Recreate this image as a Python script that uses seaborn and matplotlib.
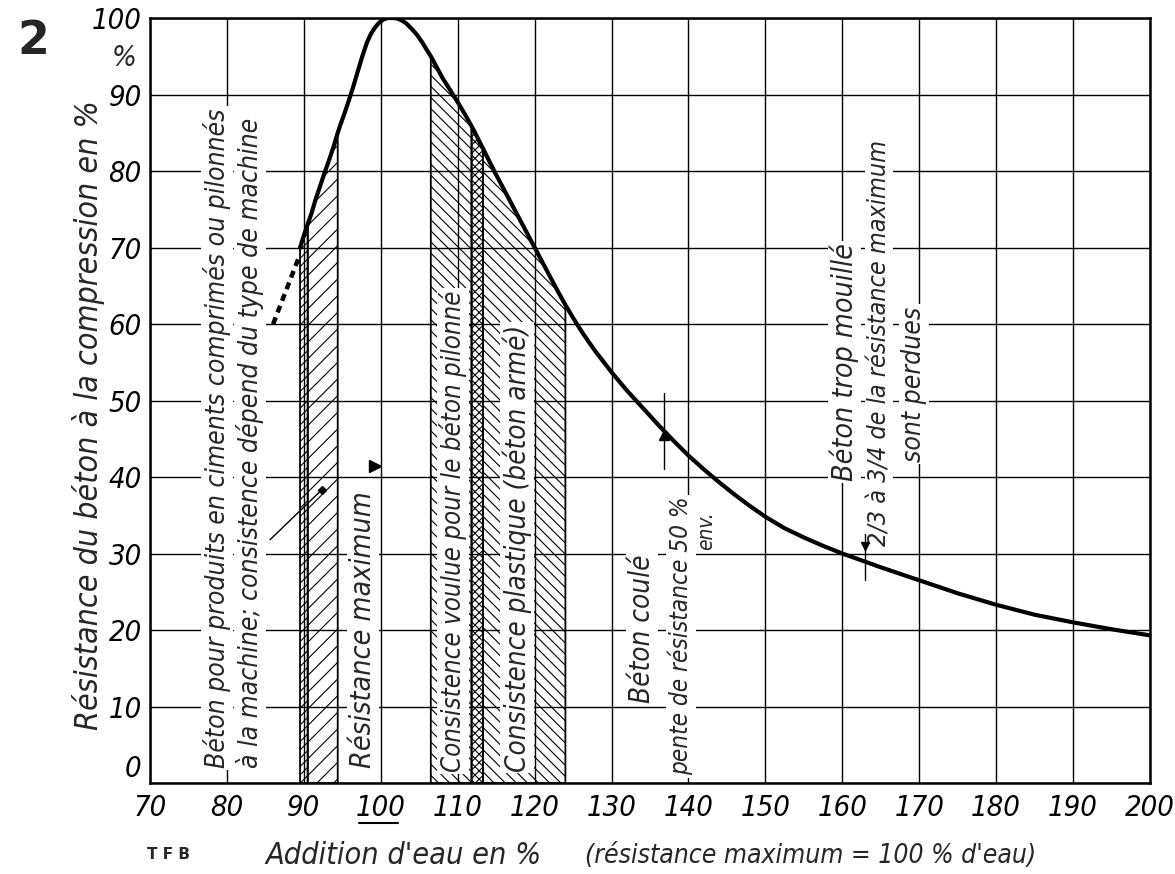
import numpy as np
import pandas as pd
import matplotlib.pyplot as plt
import seaborn as sns

# courbe : addition d'eau (%) -> résistance (%)
water = [89.5, 90.2, 91, 91.5, 92.1, 92.7, 93.3, 93.9, 94.4, 94.8, 95.2,
         95.6, 96, 96.5, 97, 97.6, 98.2, 98.7, 99.2, 99.7, 100.3, 100.9,
         101.5, 102.1, 102.7, 103.3, 104, 104.7, 105.4, 106, 106.5, 107.2,
         108, 109, 110, 111, 112, 113, 114, 115, 116, 117, 118, 119, 120,
         121, 122, 123, 124, 125, 126, 127, 128, 129, 130, 132, 134, 136,
         138, 140, 142, 144, 146, 148, 150, 152.5, 155, 157.5, 160, 165,
         170, 175, 180, 185, 190, 195, 200]
strength = [70, 72.2, 74.5, 76.2, 78, 79.8, 81.5, 83.3, 85, 86.2, 87.3,
            88.5, 89.7, 91.3, 93, 95, 96.8, 97.9, 98.7, 99.3, 99.8, 100,
            100, 99.95, 99.7, 99.3, 98.6, 97.8, 96.8, 95.8, 95, 93.7,
            92.2, 90.6, 89, 87.3, 85.5, 83.5, 81.5, 79.5, 77.6, 75.7, 73.8,
            71.9, 70, 68.1, 66.2, 64.3, 62.5, 60.8, 59.2, 57.7, 56.3, 55,
            53.7, 51.3, 49.1, 46.9, 44.8, 42.8, 41, 39.3, 37.7, 36.2, 34.8,
            33.3, 32.1, 31, 30, 28.2, 26.5, 24.8, 23.3, 22, 21, 20.1, 19.3]

# partie en pointillé (début de courbe)
dashed_water = [86, 89.3]
dashed_strength = [60, 68.6]

# zones hachurées : début, fin, motif
zone_start = [89.5, 90.5, 106.5, 111.8, 113.3]
zone_end = [90.5, 94.4, 111.8, 113.3, 124]
zone_hatch = ['////', '//', '\\\\\\', 'xxxx', '\\\\\\']

x_ticks = list(range(70, 201, 10))
y_ticks = list(range(0, 101, 10))
x_labels = [str(v) for v in x_ticks]
y_labels = [str(v) for v in y_ticks]

df = pd.DataFrame({'eau': water, 'resistance': strength})

sns.set_style('white')
plt.rcParams['font.family'] = ['DejaVu Sans']
plt.rcParams['hatch.linewidth'] = 0.8

hand = dict(family='DejaVu Sans', style='oblique', stretch='condensed')
box = dict(facecolor='white', edgecolor='none', pad=1.5)

fig = plt.figure(figsize=(11.75, 8.74), dpi=100)
ax = fig.add_axes([0.1277, 0.1041, 0.851, 0.8753])

ax.set_xlim(70, 200)
ax.set_ylim(0, 100)
ax.set_xticks(x_ticks)
ax.set_yticks(y_ticks)
ax.grid(True, color='black', lw=1.0)
ax.set_axisbelow(True)
for s in ax.spines.values():
    s.set_color('black')
    s.set_linewidth(1.8)
ax.tick_params(length=0, pad=8, colors='black')
ax.set_xticklabels(x_labels, fontsize=21, **hand)
ax.set_yticklabels(y_labels, fontsize=21, **hand)
ax.tick_params(axis='y', pad=6)
ax.get_yticklabels()[0].set_verticalalignment('bottom')

# hachures sous la courbe
for a, b, h in zip(zone_start, zone_end, zone_hatch):
    xs = np.linspace(a, b, 40)
    top = np.interp(xs, water, strength)
    ax.fill_between(xs, 0, top, facecolor='none', edgecolor='black',
                    hatch=h, lw=1.3, zorder=1)

sns.lineplot(data=df, x='eau', y='resistance', color='black', lw=3,
             ax=ax, zorder=5)
ax.plot(dashed_water, dashed_strength, color='black', lw=3.2,
        ls=(0, (1.6, 1.2)), zorder=5)
ax.set_xlabel('')
ax.set_ylabel('')

# textes verticaux
def vtext(x, y, s, size=19):
    ax.text(x, y, s, rotation=90, rotation_mode='anchor', ha='left',
            va='center', fontsize=size, bbox=box, zorder=3, **hand)

vtext(78.7, 2, 'Béton pour produits en ciments comprimés ou pilonnés')
vtext(83.0, 2, 'à la machine; consistence dépend du type de machine')
vtext(97.7, 2, 'Résistance maximum', 20.5)
vtext(109.4, 1.5, 'Consistence voulue pour le béton pilonné', 18.5)
vtext(117.7, 1.5, 'Consistence plastique (béton armé)', 20)
vtext(134.0, 10.5, 'Béton coulé', 20)
vtext(139.0, 1.0, 'pente de résistance 50 %', 17.5)
vtext(142.3, 30.5, 'env.', 15)
vtext(160.3, 39.5, 'Béton trop mouillé', 20.5)
vtext(164.8, 31, '2/3 à 3/4 de la résistance maximum', 18)
vtext(169.3, 42, 'sont perdues')

# repères
ax.plot([99.3], [41.5], marker='>', color='black', ms=8, zorder=6)
ax.plot([85.6, 92.3], [31.8, 38.3], color='black', lw=1, zorder=6)
ax.plot([92.3], [38.3], marker='D', color='black', ms=4, zorder=6)
ax.plot([136.8, 136.8], [41, 51], color='black', lw=1, zorder=6)
ax.plot([136.8], [45.5], marker='^', color='black', ms=7, zorder=6)
ax.plot([163, 163], [26.5, 32.5], color='black', lw=1, zorder=6)
ax.plot([163], [31], marker='v', color='black', ms=6, zorder=6)

# soulignement du 100
ax.plot([97.2, 102.3], [-0.052, -0.052], color='black', lw=1.5,
        transform=ax.get_xaxis_transform(), clip_on=False)

fig.text(0.106, 0.934, '%', fontsize=21, ha='center', va='center', **hand)
fig.text(0.075, 0.525, 'Résistance du béton à la compression en %',
         rotation=90, fontsize=23, ha='center', va='center', **hand)
fig.text(0.226, 0.021, "Addition d'eau en %", fontsize=22, ha='left',
         va='center', **hand)
fig.text(0.498, 0.021, "(résistance maximum = 100 % d'eau)", fontsize=19,
         ha='left', va='center', **hand)
fig.text(0.143, 0.022, 'T F B', fontsize=11, ha='center', va='center',
         weight='bold')
fig.text(0.028, 0.952, '2', fontsize=33, ha='center', va='center',
         weight='bold')

fig.savefig('out.png', dpi=100)
